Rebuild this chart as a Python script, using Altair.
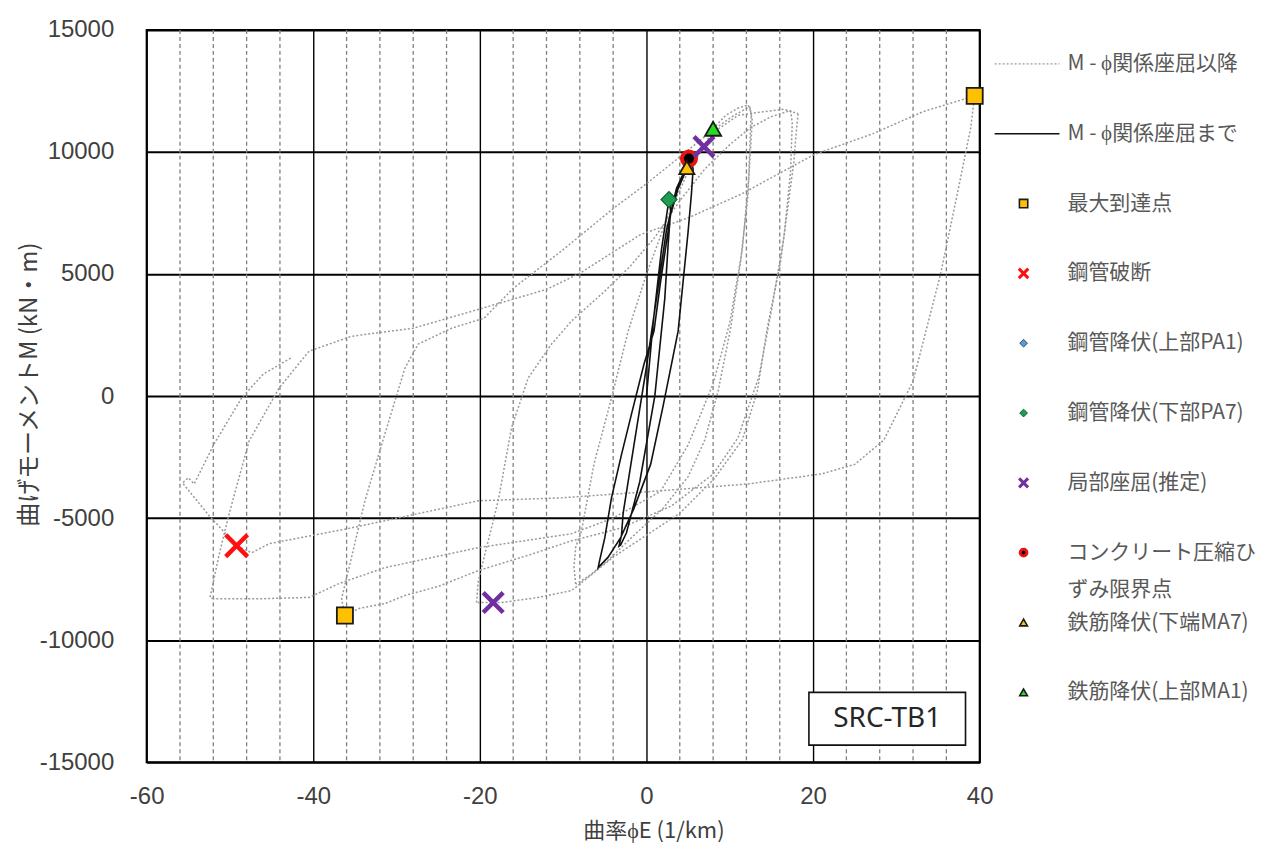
import altair as alt
import pandas as pd

FONT_CJK = "Noto Sans CJK JP"
FONT_NUM = "Liberation Sans"

# ---------------- axis ticks ----------------
x_ticks = [-60, -40, -20, 0, 20, 40]
y_ticks = [-15000, -10000, -5000, 0, 5000, 10000, 15000]
minor_x_ticks = [-56, -52, -48, -44, -36, -32, -28, -24, -16, -12, -8, -4,
                 4, 8, 12, 16, 24, 28, 32, 36]

# ---------------- dotted M-phi curve (after local buckling) ----------------
d1_x = [6.9, 8.0, 9.5, 11.0, 12.2, 12.6, 12.5, 12.2, 11.3, 10.1, 8.6, 7.0, 5.0, 2.0, -1.5, -4.5, -7.0, -8.5]
d1_y = [10220, 10950, 11500, 11800, 11930, 11600, 11100, 8260, 5520, 2780, 200, -1800, -3300, -4600, -5700, -6700, -7400, -7700]
d2_x = [-8.5, -8.7, -8.5, -7.8, -6.3, -4.2, -2.2, 0.0, 2.5, 5.0, 8.0, 11.0, 14.0, 16.5, 18.2]
d2_y = [-7700, -7000, -6200, -5520, -2780, -80, 2660, 5000, 7300, 9200, 10800, 11500, 11650, 11750, 11570]
d3_x = [18.2, 17.9, 17.7, 16.1, 14.5, 13.3, 11.5, 8.1, 4.0, 0.0, -4.0, -9.0, -13.0, -17.4, -20.4]
d3_y = [11570, 10500, 9600, 5520, 2780, 200, -1800, -3400, -4800, -5700, -6600, -7970, -8250, -8460, -8460]
d4_x = [-20.4, -20.2, -19.8, -17.8, -16.2, -14.2, -11.4, -9.0, -5.0, -2.0, 1.0, 4.0, 7.0, 10.0, 12.5, 15.0, 17.3]
d4_y = [-8460, -7600, -7030, -4290, -1300, 740, 2130, 3070, 4300, 5300, 6500, 8000, 9300, 10300, 11000, 11450, 11700]
d5_x = [17.3, 17.5, 17.3, 16.5, 15.0, 13.5, 11.0, 8.0, 3.0, -3.0, -9.0, -14.0, -20.2, -25.0, -29.0, -31.4, -34.5, -36.2]
d5_y = [11700, 11200, 9200, 6500, 3500, 800, -1700, -3200, -4500, -5400, -5930, -6500, -7150, -7800, -8170, -8500, -8700, -8990]
d6_x = [-36.2, -36.6, -35.7, -33.8, -31.4, -29.0, -27.4, -23.4, -19.5, -16.0, -10.0, -4.0, 0.0, 4.0, 8.0, 10.5, 12.4]
d6_y = [-8990, -8300, -7030, -4290, -1550, 1140, 2130, 2780, 3190, 4410, 6000, 7680, 8700, 9800, 10900, 11500, 11850]
d7_x = [12.4, 12.7, 12.3, 11.5, 10.0, 8.0, 5.0, 1.7, -4.0, -9.0, -20.2, -31.4, -36.9, -40.5, -46.0, -52.0]
d7_y = [11850, 11300, 9000, 6000, 3000, 500, -2000, -3900, -5000, -5640, -6210, -7030, -7680, -8250, -8300, -8300]
d8_x = [-52.0, -52.4, -51.3, -50.1, -47.7, -44.1, -40.5, -35.4, -28.0, -20.1, -12.0, -8.0, -0.7, 5.0, 11.3, 20.1, 27.2, 33.2, 39.4]
d8_y = [-8300, -8260, -6500, -4820, -1840, 330, 1840, 2450, 2780, 3560, 4370, 5030, 6620, 7300, 8260, 9890, 10750, 11650, 12300]
d9_x = [39.4, 38.9, 37.3, 35.3, 32.0, 28.5, 25.0, 21.0, 12.2, 1.7, -10.2, -20.2, -35.4, -45.3, -47.4, -49.2]
d9_y = [12300, 10950, 8260, 4990, 610, -1800, -2800, -3190, -3600, -3880, -4170, -4290, -5400, -6050, -6420, -6130]
d10_x = [-49.2, -52.5, -55.7, -55.0, -54.3, -51.9, -48.6, -46.0, -42.5]
d10_y = [-6130, -4900, -3556, -3350, -3600, -1960, -80, 900, 1600]

dotted_segments = [(d1_x, d1_y), (d2_x, d2_y), (d3_x, d3_y), (d4_x, d4_y), (d5_x, d5_y),
                   (d6_x, d6_y), (d7_x, d7_y), (d8_x, d8_y), (d9_x, d9_y), (d10_x, d10_y)]

# ---------------- solid M-phi curve (up to local buckling) ----------------
s_x = [0.0, 0.8, 1.8, 2.7, 2.9, 2.6, 2.2, 1.0, -0.8, -2.4, -3.1, -3.3, -3.0, -2.8, -1.5, 0.0, 1.2, 2.4, 3.6, 4.8, 5.4, 5.6,
       5.4, 5.0, 3.8, 2.0, 0.5, -1.5, -3.1, -4.6, -5.8, -5.6, -5.0, -4.2, -3.0, -1.8, -0.3, 0.9, 1.7, 2.9, 3.8, 4.7, 5.6, 6.9]
s_y = [0, 3000, 6000, 8050, 7600, 6200, 4000, 0, -3500, -5600, -6100, -6150, -5700, -4800, -2000, 1200, 4000, 6800, 8500, 9400, 9600, 9300,
       8300, 6740, 2660, -400, -2800, -4600, -5800, -6600, -7030, -6700, -5800, -4170, -2400, -740, 1300, 2660, 4700, 7440, 8500, 9200, 9800, 10220]

# ---------------- event markers ----------------
marker_kind = ["max", "max", "fracture", "pa1", "pa7", "concrete", "ma7", "buckle", "buckle", "ma1"]
marker_x = [39.4, -36.2, -49.2, 5.0, 2.7, 5.1, 4.85, 6.9, -18.4, 8.0]
marker_y = [12300, -8990, -6130, 9700, 8050, 9730, 9360, 10220, -8460, 10950]

# ---------------- specimen label ----------------
box_label = ["SRC-TB1"]
box_x = [19.5]
box_x2 = [38.3]
box_y = [-12140]
box_y2 = [-14300]

# ---------------- legend ----------------
legend_symbol_kind = ["max", "fracture", "pa1", "pa7", "buckle", "concrete", "ma7", "ma1"]
legend_text = ["M - ϕ関係座屈以降", "M - ϕ関係座屈まで", "最大到達点", "鋼管破断", "鋼管降伏(上部PA1)",
               "鋼管降伏(下部PA7)", "局部座屈(推定)", "コンクリート圧縮ひ", "ずみ限界点",
               "鉄筋降伏(下端MA7)", "鉄筋降伏(上部MA1)"]
legend_text_row = [0, 1, 2, 3, 4, 5, 6, 7, 7.53, 8, 9]

# ---------------- styles ----------------
XPATH = "M-1,-1L1,1M-1,1L1,-1"
style = {
    "max":      dict(shape="square", fill="#FFC000", stroke="#1a1a1a", sw=1.8, size=260, lsize=70),
    "fracture": dict(shape=XPATH, fill="#FF1010", stroke="#FF1010", sw=4.5, size=480, lsize=90),
    "pa1":      dict(shape="diamond", fill="#5B9BD5", stroke="#2F4F6F", sw=1.2, size=150, lsize=60),
    "pa7":      dict(shape="diamond", fill="#1E9E50", stroke="#145A32", sw=1.2, size=260, lsize=60),
    "concrete": dict(shape="circle", fill="#000000", stroke="#E8140F", sw=4, size=200, lsize=45),
    "ma7":      dict(shape="triangle-up", fill="#FFC000", stroke="#1a1a1a", sw=1.8, size=230, lsize=60),
    "buckle":   dict(shape=XPATH, fill="#7030A0", stroke="#7030A0", sw=4.5, size=400, lsize=80),
    "ma1":      dict(shape="triangle-up", fill="#22DD22", stroke="#1a1a1a", sw=1.8, size=260, lsize=60),
}
legend_sw = {"max": 1.6, "fracture": 3, "pa1": 1, "pa7": 1, "concrete": 3, "ma7": 1.6, "buckle": 3, "ma1": 1.6}

# ---------------- data frames ----------------
dot_rows = []
for k, (xs, ys) in enumerate(dotted_segments):
    for i, (xv, yv) in enumerate(zip(xs, ys)):
        dot_rows.append({"seg": f"d{k}", "i": i, "x": xv, "y": yv})
dot_df = pd.DataFrame(dot_rows)
solid_df = pd.DataFrame({"i": list(range(len(s_x))), "x": s_x, "y": s_y})
minor_df = pd.DataFrame({"x": minor_x_ticks})

mk_rows = []
for kind, xv, yv in zip(marker_kind, marker_x, marker_y):
    st = style[kind]
    mk_rows.append({"x": xv, "y": yv, "shape": st["shape"], "fill": st["fill"],
                    "stroke": st["stroke"], "sw": st["sw"], "size": st["size"]})
order_pref = {"max": 0, "pa1": 1, "pa7": 2, "concrete": 3, "ma7": 4, "buckle": 5, "ma1": 6, "fracture": 7}
mk_df = pd.DataFrame(mk_rows)
mk_df["o"] = [order_pref[k] for k in marker_kind]
mk_df = mk_df.sort_values("o")

box_df = pd.DataFrame({"label": box_label, "x": box_x, "x2": box_x2, "y": box_y, "y2": box_y2})
box_df["xc"] = (box_df["x"] + box_df["x2"]) / 2
box_df["yc"] = (box_df["y"] + box_df["y2"]) / 2

# ---------------- main plot ----------------
x_axis = alt.Axis(values=x_ticks, grid=True, gridColor="#000000", gridWidth=1.4, domain=False, ticks=False,
                  labelFont=FONT_NUM, labelFontSize=24, labelColor="#404040", labelPadding=22,
                  labelFlush=False, labelExpr="'' + datum.value",
                  title="曲率ϕE (1/km)", titleFont=FONT_CJK, titleFontSize=22,
                  titleFontWeight="normal", titleColor="#404040", titleX=508, titleY=68,
                  titleAlign="center", titleBaseline="middle")
y_axis = alt.Axis(values=y_ticks, grid=True, gridColor="#000000", gridWidth=2, domain=False, ticks=False,
                  labelFont=FONT_NUM, labelFontSize=24, labelColor="#404040", labelPadding=33,
                  labelFlush=False, labelExpr="'' + datum.value",
                  title="曲げモーメントM (kN・m)", titleFont=FONT_CJK, titleFontSize=24,
                  titleFontWeight="normal", titleColor="#404040", titleX=-117, titleY=355,
                  titleAngle=270, titleAlign="center", titleBaseline="middle")

X = alt.X("x:Q", scale=alt.Scale(domain=[-60, 40], nice=False, zero=False), axis=x_axis)
Y = alt.Y("y:Q", scale=alt.Scale(domain=[-15000, 15000], nice=False, zero=False), axis=y_axis)

minor = alt.Chart(minor_df).mark_rule(color="#808080", strokeDash=[4, 3], strokeWidth=1.3).encode(x=X)
dotted = alt.Chart(dot_df).mark_line(color="#999999", strokeWidth=1.5, strokeDash=[2, 2]).encode(
    x=X, y=Y, detail="seg:N", order="i:Q")
solid = alt.Chart(solid_df).mark_line(color="#111111", strokeWidth=1.6).encode(x=X, y=Y, order="i:Q")
markers = alt.Chart(mk_df).mark_point(filled=True, opacity=1).encode(
    x=X, y=Y,
    shape=alt.Shape("shape:N", scale=None),
    fill=alt.Fill("fill:N", scale=None),
    stroke=alt.Stroke("stroke:N", scale=None),
    strokeWidth=alt.StrokeWidth("sw:Q", scale=None),
    size=alt.Size("size:Q", scale=None),
    order=alt.Order("o:Q"),
)
box = alt.Chart(box_df).mark_rect(fill="white", stroke="#111111", strokeWidth=1.6).encode(
    x=X, x2="x2:Q", y=Y, y2="y2:Q")
box_text = alt.Chart(box_df).mark_text(font="Noto Sans", fontSize=28, color="#262626").encode(
    x=alt.X("xc:Q", scale=alt.Scale(domain=[-60, 40], nice=False, zero=False), axis=x_axis),
    y=alt.Y("yc:Q", scale=alt.Scale(domain=[-15000, 15000], nice=False, zero=False), axis=y_axis),
    text="label:N")

main = alt.layer(minor, dotted, solid, markers, box, box_text).properties(
    width=835, height=734, view=alt.ViewBackground(stroke="#000000", strokeWidth=2))

# ---------------- legend panel ----------------
LX = alt.X("lx:Q", scale=alt.Scale(domain=[0, 283], nice=False, zero=False), axis=None)
LY = alt.Y("row:Q", scale=alt.Scale(domain=[-0.486, 10.0], nice=False, zero=False, reverse=True), axis=None)

leg_dot_df = pd.DataFrame({"lx": [10, 75], "row": [0, 0]})
leg_sol_df = pd.DataFrame({"lx": [10, 75], "row": [1, 1]})
leg_sym_rows = []
for r, kind in enumerate(legend_symbol_kind):
    st = style[kind]
    leg_sym_rows.append({"lx": 39, "row": r + 2, "shape": st["shape"], "fill": st["fill"],
                         "stroke": st["stroke"], "sw": legend_sw[kind], "size": st["lsize"]})
leg_sym_df = pd.DataFrame(leg_sym_rows)
leg_txt_df = pd.DataFrame({"lx": [83] * len(legend_text), "row": legend_text_row, "label": legend_text})

leg_dot = alt.Chart(leg_dot_df).mark_line(color="#9c9c9c", strokeWidth=1.4, strokeDash=[2, 2]).encode(x=LX, y=LY)
leg_sol = alt.Chart(leg_sol_df).mark_line(color="#111111", strokeWidth=1.6).encode(x=LX, y=LY)
leg_sym = alt.Chart(leg_sym_df).mark_point(filled=True, opacity=1).encode(
    x=LX, y=LY,
    shape=alt.Shape("shape:N", scale=None),
    fill=alt.Fill("fill:N", scale=None),
    stroke=alt.Stroke("stroke:N", scale=None),
    strokeWidth=alt.StrokeWidth("sw:Q", scale=None),
    size=alt.Size("size:Q", scale=None),
)
leg_txt = alt.Chart(leg_txt_df).mark_text(font=FONT_CJK, fontSize=21, color="#595959",
                                          align="left", baseline="middle").encode(x=LX, y=LY, text="label:N")

legend = alt.layer(leg_dot, leg_sol, leg_sym, leg_txt).properties(
    width=283, height=734, view=alt.ViewBackground(stroke="transparent"))

chart = alt.hconcat(main, legend, spacing=5, bounds="flush").properties(
    padding={"left": 17, "top": 16, "right": 0, "bottom": 0},
    background="white",
)

chart.save("out.html", embed_options={"renderer": "svg", "actions": False})
